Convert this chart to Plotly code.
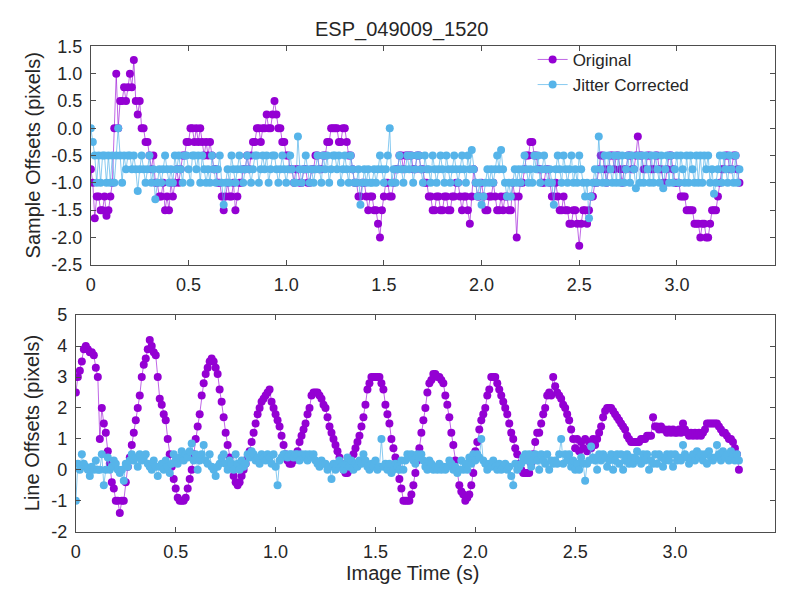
import plotly.graph_objects as go

# ---------------- data ----------------
time_s = [
    0.00, 0.01, 0.02, 0.03, 0.04, 0.05, 0.06, 0.07, 0.08, 0.09, 0.10, 0.11, 0.12, 0.13, 0.14, 0.15, 0.16, 0.17, 0.18, 0.19,
    0.20, 0.21, 0.22, 0.23, 0.24, 0.25, 0.26, 0.27, 0.28, 0.29, 0.30, 0.31, 0.32, 0.33, 0.34, 0.35, 0.36, 0.37, 0.38, 0.39,
    0.40, 0.41, 0.42, 0.43, 0.44, 0.45, 0.46, 0.47, 0.48, 0.49, 0.50, 0.51, 0.52, 0.53, 0.54, 0.55, 0.56, 0.57, 0.58, 0.59,
    0.60, 0.61, 0.62, 0.63, 0.64, 0.65, 0.66, 0.67, 0.68, 0.69, 0.70, 0.71, 0.72, 0.73, 0.74, 0.75, 0.76, 0.77, 0.78, 0.79,
    0.80, 0.81, 0.82, 0.83, 0.84, 0.85, 0.86, 0.87, 0.88, 0.89, 0.90, 0.91, 0.92, 0.93, 0.94, 0.95, 0.96, 0.97, 0.98, 0.99,
    1.00, 1.01, 1.02, 1.03, 1.04, 1.05, 1.06, 1.07, 1.08, 1.09, 1.10, 1.11, 1.12, 1.13, 1.14, 1.15, 1.16, 1.17, 1.18, 1.19,
    1.20, 1.21, 1.22, 1.23, 1.24, 1.25, 1.26, 1.27, 1.28, 1.29, 1.30, 1.31, 1.32, 1.33, 1.34, 1.35, 1.36, 1.37, 1.38, 1.39,
    1.40, 1.41, 1.42, 1.43, 1.44, 1.45, 1.46, 1.47, 1.48, 1.49, 1.50, 1.51, 1.52, 1.53, 1.54, 1.55, 1.56, 1.57, 1.58, 1.59,
    1.60, 1.61, 1.62, 1.63, 1.64, 1.65, 1.66, 1.67, 1.68, 1.69, 1.70, 1.71, 1.72, 1.73, 1.74, 1.75, 1.76, 1.77, 1.78, 1.79,
    1.80, 1.81, 1.82, 1.83, 1.84, 1.85, 1.86, 1.87, 1.88, 1.89, 1.90, 1.91, 1.92, 1.93, 1.94, 1.95, 1.96, 1.97, 1.98, 1.99,
    2.00, 2.01, 2.02, 2.03, 2.04, 2.05, 2.06, 2.07, 2.08, 2.09, 2.10, 2.11, 2.12, 2.13, 2.14, 2.15, 2.16, 2.17, 2.18, 2.19,
    2.20, 2.21, 2.22, 2.23, 2.24, 2.25, 2.26, 2.27, 2.28, 2.29, 2.30, 2.31, 2.32, 2.33, 2.34, 2.35, 2.36, 2.37, 2.38, 2.39,
    2.40, 2.41, 2.42, 2.43, 2.44, 2.45, 2.46, 2.47, 2.48, 2.49, 2.50, 2.51, 2.52, 2.53, 2.54, 2.55, 2.56, 2.57, 2.58, 2.59,
    2.60, 2.61, 2.62, 2.63, 2.64, 2.65, 2.66, 2.67, 2.68, 2.69, 2.70, 2.71, 2.72, 2.73, 2.74, 2.75, 2.76, 2.77, 2.78, 2.79,
    2.80, 2.81, 2.82, 2.83, 2.84, 2.85, 2.86, 2.87, 2.88, 2.89, 2.90, 2.91, 2.92, 2.93, 2.94, 2.95, 2.96, 2.97, 2.98, 2.99,
    3.00, 3.01, 3.02, 3.03, 3.04, 3.05, 3.06, 3.07, 3.08, 3.09, 3.10, 3.11, 3.12, 3.13, 3.14, 3.15, 3.16, 3.17, 3.18, 3.19,
    3.20, 3.21, 3.22, 3.23, 3.24, 3.25, 3.26, 3.27, 3.28, 3.29, 3.30, 3.31, 3.32,
]

sample_original = [
    -0.75, -1.0, -1.65, -1.25, -1.25, -1.5, -1.5, -1.25, -1.6, -1.5, -1.25, -1.0, 0.0, 1.0, 0.0, 0.5, 0.5, 0.75, 0.5, 0.75,
    1.0, 0.75, 1.25, 0.5, 0.25, 0.5, 0.0, 0.0, -0.25, -0.25, -0.5, -0.75, -0.5, -1.0, -1.0, -1.25, -1.25, -1.0, -1.5, -1.25,
    -1.5, -1.0, -1.25, -1.0, -0.75, -1.0, -0.75, -0.5, -0.5, -0.25, -0.25, 0.0, 0.0, -0.25, 0.0, -0.25, 0.0, -0.25, -0.5, -0.25,
    -0.5, -0.25, -0.5, -0.75, -0.75, -1.0, -1.0, -1.25, -1.5, -1.25, -1.0, -1.25, -1.25, -1.0, -1.5, -1.25, -1.0, -1.0, -0.75, -0.75,
    -0.5, -0.75, -0.5, -0.25, -0.25, 0.0, 0.0, -0.25, 0.0, 0.0, 0.25, 0.0, 0.0, 0.25, 0.5, 0.25, 0.0, 0.0, -0.25, -0.25,
    -0.5, -0.5, -0.75, -0.75, -1.0, -0.75, -0.75, -1.0, -1.0, -0.75, -0.75, -1.0, -1.0, -0.75, -0.75, -0.5, -0.5, -0.75, -0.75, -0.5,
    -0.5, -0.25, -0.25, 0.0, 0.0, 0.0, 0.0, -0.25, -0.25, 0.0, 0.0, -0.25, -0.5, -0.5, -0.75, -1.0, -1.0, -1.25, -1.25, -1.0,
    -1.0, -1.25, -1.5, -1.25, -1.25, -1.5, -1.5, -1.75, -2.0, -1.5, -1.25, -1.0, -1.0, -1.25, -1.25, -1.0, -0.75, -0.75, -0.5, -0.5,
    -0.75, -0.5, -0.5, -0.5, -0.5, -0.75, -0.75, -0.5, -0.5, -0.75, -0.75, -1.0, -1.0, -1.25, -1.25, -1.5, -1.5, -1.25, -1.25, -1.5,
    -1.5, -1.25, -1.25, -1.5, -1.5, -1.25, -1.25, -1.0, -1.0, -1.25, -1.5, -1.25, -1.25, -1.5, -1.75, -1.25, -0.75, -1.0, -1.25, -1.25,
    -1.0, -1.25, -1.5, -1.5, -1.25, -1.25, -1.0, -1.25, -1.5, -1.5, -1.25, -1.5, -1.25, -1.25, -1.5, -1.5, -1.0, -1.25, -2.0, -1.25,
    -1.0, -1.0, -0.75, -0.5, -0.5, -0.25, -0.25, -0.5, -0.5, -0.75, -0.75, -1.0, -1.0, -0.75, -0.75, -1.0, -1.25, -1.25, -1.0, -1.25,
    -1.5, -1.5, -1.25, -1.5, -1.5, -1.75, -1.75, -1.5, -1.5, -1.75, -2.15, -1.75, -1.5, -1.5, -1.75, -1.5, -1.25, -1.25, -1.0, -1.0,
    -0.75, -0.5, -0.5, -0.75, -1.0, -0.75, -0.5, -0.5, -0.75, -0.5, -0.5, -0.75, -1.0, -0.75, -0.75, -0.5, -0.5, -0.75, -0.75, -0.5,
    -0.15, -0.5, -0.5, -0.75, -0.75, -0.5, -0.5, -0.75, -0.75, -0.5, -0.5, -0.75, -0.75, -1.0, -1.0, -0.75, -0.5, -0.5, -0.75, -1.0,
    -1.0, -1.0, -1.25, -1.25, -1.25, -1.5, -1.5, -1.5, -1.5, -1.75, -1.75, -1.75, -2.0, -1.75, -1.75, -2.0, -2.0, -1.75, -1.5, -1.5,
    -1.5, -1.25, -1.0, -0.75, -0.75, -0.5, -0.5, -0.75, -0.75, -0.5, -0.5, -0.75, -1.0,
]

sample_corrected = [
    0.0, -0.25, -0.5, -1.0, -0.5, -1.0, -0.5, -0.5, -1.0, -0.5, -1.0, -0.5, -1.0, -0.5, 0.0, -0.5, -1.0, -0.5, -0.75, -0.5,
    -0.5, -0.75, -0.5, -0.75, -1.15, -0.75, -0.5, -0.75, -1.0, -0.75, -0.5, -1.0, -0.75, -1.3, -1.0, -0.75, -1.0, -0.75, -0.5, -0.75,
    -1.0, -0.75, -1.0, -0.5, -0.75, -0.5, -0.75, -1.0, -0.5, -0.5, -0.75, -1.0, -0.5, -0.5, -0.75, -0.5, -1.0, -0.5, -0.75, -1.0,
    -0.75, -1.0, -0.5, -0.75, -1.0, -0.75, -0.5, -1.0, -1.4, -1.0, -0.75, -1.0, -0.5, -0.75, -1.0, -0.75, -0.5, -0.75, -1.0, -0.75,
    -0.5, -0.75, -1.0, -0.75, -0.5, -0.5, -1.0, -0.75, -0.5, -0.75, -0.5, -1.0, -0.75, -0.5, -0.5, -0.75, -1.0, -0.75, -0.5, -0.75,
    -1.0, -0.75, -0.5, -0.75, -1.0, -1.0, -0.15, -0.75, -1.0, -0.75, -0.5, -0.75, -1.0, -0.75, -1.0, -0.75, -0.5, -0.75, -1.0, -0.5,
    -0.75, -0.5, -1.0, -0.75, -0.5, -0.5, -0.75, -0.5, -1.0, -0.75, -0.5, -0.75, -1.0, -0.5, -0.75, -1.0, -1.0, -0.75, -1.4, -1.0,
    -0.75, -1.0, -0.75, -1.0, -1.0, -0.75, -1.0, -0.75, -0.5, -0.75, -1.0, -0.75, -0.5, 0.0, -1.0, -0.75, -1.0, -0.75, -0.5, -0.75,
    -1.0, -0.75, -0.5, -0.75, -0.5, -1.0, -0.75, -0.5, -0.5, -0.75, -1.0, -0.5, -0.75, -0.75, -1.0, -0.5, -0.75, -1.0, -0.75, -0.5,
    -0.75, -1.0, -0.5, -0.75, -1.0, -0.75, -0.5, -0.75, -1.0, -0.75, -0.5, -0.75, -1.0, -0.5, -0.75, -0.4, -0.75, -1.0, -1.25, -1.0,
    -1.4, -1.25, -1.0, -0.75, -1.0, -0.75, -1.0, -0.75, -0.5, -0.75, -0.4, -0.75, -1.0, -1.25, -1.0, -1.25, -1.0, -0.75, -1.0, -0.75,
    -1.0, -0.75, -0.5, -0.75, -1.0, -0.75, -1.0, -0.5, -0.75, -0.5, -1.0, -0.75, -0.5, -0.75, -1.0, -0.75, -1.0, -1.4, -0.75, -0.5,
    -0.75, -1.0, -0.5, -0.75, -1.0, -0.75, -0.5, -1.0, -0.75, -1.0, -0.5, -0.75, -1.0, -1.25, -1.0, -1.65, -1.25, -1.0, -0.75, -1.0,
    -0.15, -0.75, -1.0, -0.5, -1.0, -0.5, -0.75, -1.0, -0.5, -1.0, -0.5, -1.0, -0.5, -1.0, -0.75, -0.5, -1.0, -0.5, -0.75, -1.1,
    -0.5, -1.0, -0.5, -1.0, -0.5, -0.75, -1.0, -0.5, -1.0, -0.5, -0.75, -1.0, -0.5, -1.1, -0.75, -0.5, -1.0, -0.5, -1.0, -0.75,
    -0.5, -1.0, -0.5, -0.75, -1.0, -0.5, -1.0, -0.5, -0.75, -1.0, -0.5, -1.0, -0.5, -1.0, -0.5, -0.75, -0.5, -1.0, -0.75, -1.2,
    -1.0, -0.75, -0.5, -1.0, -0.5, -0.75, -1.0, -0.5, -0.75, -1.0, -0.5, -1.0, -0.75,
]

line_original = [
    2.5, 3.0, 3.2, 3.5, 3.9, 4.0, 3.9, 3.8, 3.8, 3.7, 3.3, 3.0, 1.0, 2.0, 1.5, 1.2, 0.6, 0.2, -0.4, -0.6,
    -1.0, -1.0, -1.4, -1.0, -1.0, -0.4, 0.1, 0.4, 0.8, 1.2, 1.6, 2.0, 2.4, 3.0, 3.4, 3.6, 3.9, 4.2, 4.0, 3.8,
    3.7, 3.0, 2.3, 2.1, 1.8, 1.6, 1.0, 0.5, 0.1, -0.3, -0.6, -0.9, -1.0, -1.0, -1.0, -0.9, -0.6, -0.3, 0.0, 0.5,
    1.0, 1.4, 1.8, 2.4, 2.8, 3.1, 3.3, 3.5, 3.6, 3.5, 3.3, 3.1, 2.6, 2.2, 1.7, 1.2, 0.8, 0.4, 0.1, -0.2,
    -0.4, -0.5, -0.4, -0.2, 0.0, 0.2, 0.4, 0.6, 0.9, 1.2, 1.5, 1.8, 2.0, 2.2, 2.3, 2.4, 2.5, 2.6, 2.2, 2.0,
    1.8, 1.6, 1.4, 1.1, 0.8, 0.5, 0.3, 0.2, 0.2, 0.3, 0.4, 0.6, 0.9, 1.1, 1.3, 1.5, 1.8, 2.0, 2.4, 2.5,
    2.5, 2.5, 2.4, 2.3, 2.1, 2.0, 1.7, 1.4, 1.2, 1.0, 0.8, 0.6, 0.4, 0.2, 0.0, -0.1, -0.1, 0.0, 0.3, 0.5,
    0.7, 0.9, 1.1, 1.4, 1.7, 2.1, 2.6, 2.8, 3.0, 3.0, 3.0, 3.0, 3.0, 2.8, 2.6, 2.1, 1.8, 1.5, 1.0, 0.7,
    0.4, 0.1, -0.3, -0.6, -1.0, -1.0, -1.0, -1.0, -0.8, -0.5, -0.1, 0.3, 0.7, 1.2, 1.6, 2.0, 2.5, 2.8, 2.9, 3.1,
    3.1, 3.0, 3.0, 2.9, 2.8, 2.4, 2.1, 1.7, 1.2, 0.8, 0.3, 0.0, -0.5, -0.7, -0.8, -1.0, -0.9, -0.8, -0.5, -0.1,
    0.6, 0.9, 1.3, 1.6, 1.8, 2.0, 2.4, 2.6, 3.0, 3.0, 3.0, 2.8, 2.6, 2.4, 2.2, 2.0, 1.8, 1.5, 1.2, 1.0,
    0.7, 0.5, 0.2, 0.0, -0.1, -0.1, -0.1, -0.1, 0.2, 0.5, 0.9, 1.2, 1.2, 1.5, 1.8, 2.0, 2.4, 2.5, 2.4, 3.0,
    2.7, 2.5, 2.4, 2.3, 2.1, 2.0, 1.8, 1.6, 1.3, 1.0, 0.7, 1.0, 0.6, 0.9, 0.7, 1.0, 0.6, 0.9, 0.7, 1.0,
    0.8, 1.0, 1.2, 1.4, 1.7, 1.9, 2.0, 2.0, 2.0, 1.9, 1.8, 1.7, 1.6, 1.5, 1.4, 1.3, 1.1, 1.0, 0.9, 0.9,
    0.9, 0.9, 0.9, 1.0, 1.0, 1.0, 1.1, 1.1, 1.1, 1.7, 1.4, 1.4, 1.3, 1.4, 1.3, 1.3, 1.2, 1.3, 1.2, 1.3,
    1.2, 1.2, 1.3, 1.2, 1.5, 1.3, 1.2, 1.1, 1.2, 1.1, 1.2, 1.1, 1.2, 1.1, 1.2, 1.3, 1.5, 1.5, 1.5, 1.5,
    1.5, 1.5, 1.4, 1.3, 1.2, 1.2, 1.1, 1.0, 1.0, 0.9, 0.7, 0.5, 0.0,
]

line_corrected = [
    -1.0, 0.2, 0.0, 0.5, 0.2, 0.1, 0.0, -0.2, 0.1, 0.0, 0.3, 0.0, 0.0, 0.5, -0.5, 0.0, 0.4, 0.0, 0.1, 0.3,
    0.2, 0.0, -0.1, 0.0, -0.35, 0.2, 0.1, 0.3, 0.5, 0.3, 0.4, 0.1, 0.5, 0.3, 0.4, 0.5, 0.2, 0.1, 0.0, 0.3,
    0.1, -0.2, 0.1, 0.2, 0.0, 0.3, 0.1, -0.1, 0.2, 0.5, 0.3, 0.2, 0.4, 0.6, 0.3, 0.5, 0.4, 0.6, 0.85, 0.3,
    0.5, 0.0, 0.3, 0.5, 0.8, 0.3, 0.2, 0.5, 0.1, 0.0, -0.2, 0.1, 0.2, 0.4, 0.5, 0.2, 0.0, 0.3, 0.2, 0.0,
    0.5, 0.2, 0.0, 0.3, 0.1, 0.2, 0.5, 0.4, 0.6, 0.5, 0.3, 0.4, 0.2, 0.5, 0.4, 0.3, 0.5, 0.4, 0.2, 0.5,
    0.1, -0.5, 0.3, 0.4, 0.5, 0.5, 0.4, 0.5, 0.5, 0.4, 0.5, 0.5, 0.3, 0.5, 0.4, 0.5, 0.3, 0.5, 0.4, 0.5,
    0.3, 0.2, 0.1, 0.3, 0.2, 0.2, 0.0, 0.1, -0.3, 0.2, 0.0, 0.2, 0.3, 0.1, 0.0, 0.2, 0.4, 0.1, 0.3, 0.0,
    0.2, 0.1, 0.3, 0.2, 0.5, 0.3, 0.1, 0.0, 0.2, 0.1, 0.3, 0.0, 0.1, 1.0, 0.1, 0.2, 0.0, 0.2, -0.1, 0.0,
    0.2, 0.1, 0.0, 0.3, 0.0, 0.3, 0.5, 0.4, 0.5, 0.3, 0.2, 0.5, 0.4, 0.5, 0.3, 0.1, 0.0, 0.3, 0.2, 0.0,
    0.1, 0.0, 0.2, 0.0, 0.1, 0.0, 0.1, 0.3, 0.2, 0.0, 0.1, -0.1, 0.0, 0.3, 0.0, 0.2, 0.0, 0.4, 0.2, 0.5,
    0.3, 0.5, 0.4, 1.0, 0.3, 0.2, 0.0, 0.2, 0.1, 0.3, 0.1, 0.0, 0.2, 0.0, 0.1, 0.2, 0.0, 0.1, -0.2, -0.5,
    0.2, 0.0, 0.1, 0.2, 0.4, 0.5, 0.3, 0.5, 0.1, 0.3, 0.5, 0.3, 0.0, 0.5, 0.3, 0.2, 0.5, 0.0, 0.3, 0.2,
    0.3, 0.2, 0.5, 1.0, 0.2, 0.5, 0.3, 0.5, 0.1, 0.3, 0.0, 0.2, 0.0, 0.4, 0.2, -0.35, 0.2, 0.3, 0.75, 0.4,
    0.3, 0.0, 0.5, 0.3, 0.5, 0.4, 0.1, 0.3, 0.5, 0.0, 0.3, 0.5, 0.2, 0.5, 0.0, 0.3, 0.5, 0.2, 0.4, 0.2,
    0.4, 0.6, 0.3, 0.2, 0.5, 0.3, 0.5, 0.0, 0.3, 0.2, 0.5, 0.2, 0.5, 0.4, 0.1, 0.3, 0.5, 0.3, 0.5, 0.1,
    0.5, 0.3, 0.4, 0.3, 0.8, 0.5, 0.4, 0.2, 0.3, 0.5, 0.3, 0.6, 0.4, 0.5, 0.3, 0.5, 0.2, 0.6, 0.4, 0.3,
    0.4, 0.8, 0.5, 0.3, 0.6, 0.4, 0.5, 0.3, 0.6, 0.5, 0.3, 0.5, 0.3,
]

x_tickvals = [0, 0.5, 1.0, 1.5, 2.0, 2.5, 3.0, 3.5]
x_ticktext = ["0", "0.5", "1.0", "1.5", "2.0", "2.5", "3.0", "3.5"]
y1_tickvals = [1.5, 1.0, 0.5, 0.0, -0.5, -1.0, -1.5, -2.0, -2.5]
y1_ticktext = ["1.5", "1.0", "0.5", "0.0", "-0.5", "-1.0", "-1.5", "-2.0", "-2.5"]
y2_tickvals = [5, 4, 3, 2, 1, 0, -1, -2]
y2_ticktext = ["5", "4", "3", "2", "1", "0", "-1", "-2"]

# ---------------- style ----------------
W, H = 787, 599
PURPLE = "rgb(148,0,211)"
PURPLE_LINE = "rgba(148,0,211,0.6)"
CYAN = "rgb(86,180,233)"
CYAN_LINE = "rgba(86,180,233,0.7)"
FONT = "Arial, Liberation Sans, Helvetica, sans-serif"
TXT = "#262626"
AX = "#4d4d4d"


def px_x(px):
    return px / W


def px_y(py):
    return 1 - py / H


fig = go.Figure()


def add(x, y, name, color, lcolor, xa, ya, show):
    fig.add_trace(go.Scatter(
        x=x, y=y, name=name, mode="lines+markers",
        line=dict(color=lcolor, width=1),
        marker=dict(color=color, size=8, line=dict(width=0)),
        xaxis=xa, yaxis=ya, showlegend=show,
    ))


add(time_s, sample_original, "Original", PURPLE, PURPLE_LINE, "x", "y", True)
add(time_s, sample_corrected, "Jitter Corrected", CYAN, CYAN_LINE, "x", "y", True)
add(time_s, line_original, "Original", PURPLE, PURPLE_LINE, "x2", "y2", False)
add(time_s, line_corrected, "Jitter Corrected", CYAN, CYAN_LINE, "x2", "y2", False)

axis_common = dict(
    showgrid=False, zeroline=False, showline=True, linecolor=AX, linewidth=1,
    mirror="ticks", ticks="inside", ticklen=5, tickcolor=AX,
    tickfont=dict(family=FONT, size=18, color=TXT),
    tickmode="array", ticklabelstandoff=4,
)

fig.update_layout(
    width=W, height=H,
    margin=dict(l=0, r=0, t=0, b=0),
    paper_bgcolor="white", plot_bgcolor="white",
    font=dict(family=FONT, color=TXT),
    xaxis=dict(axis_common, domain=[px_x(86.4), px_x(774.5)], range=[0, 3.5],
               tickvals=x_tickvals, ticktext=x_ticktext, anchor="y"),
    yaxis=dict(axis_common, domain=[px_y(263.6), px_y(37.6)], range=[-2.5, 1.5],
               tickvals=y1_tickvals, ticktext=y1_ticktext, anchor="x"),
    xaxis2=dict(axis_common, domain=[px_x(71.3), px_x(774.8)], range=[0, 3.5],
                tickvals=x_tickvals, ticktext=x_ticktext, anchor="y2"),
    yaxis2=dict(axis_common, domain=[px_y(539.7), px_y(315.7)], range=[-2, 5],
                tickvals=y2_tickvals, ticktext=y2_ticktext, anchor="x2"),
    legend=dict(x=px_x(531), y=px_y(33), xanchor="left", yanchor="top",
                bgcolor="rgba(0,0,0,0)", borderwidth=0, tracegroupgap=0,
                font=dict(family=FONT, size=17, color=TXT)),
    showlegend=True,
)

fig.add_annotation(text="ESP_049009_1520", x=px_x(400), y=px_y(20),
                   xref="paper", yref="paper", showarrow=False,
                   xanchor="center", yanchor="middle",
                   font=dict(family=FONT, size=20, color=TXT))
fig.add_annotation(text="Sample Offsets (pixels)", x=px_x(28), y=px_y(150.6),
                   xref="paper", yref="paper", showarrow=False, textangle=-90,
                   xanchor="center", yanchor="middle",
                   font=dict(family=FONT, size=20, color=TXT))
fig.add_annotation(text="Line Offsets (pixels)", x=px_x(28), y=px_y(427.7),
                   xref="paper", yref="paper", showarrow=False, textangle=-90,
                   xanchor="center", yanchor="middle",
                   font=dict(family=FONT, size=20, color=TXT))
fig.add_annotation(text="Image Time (s)", x=px_x(410), y=px_y(582),
                   xref="paper", yref="paper", showarrow=False,
                   xanchor="center", yanchor="middle",
                   font=dict(family=FONT, size=20, color=TXT))

fig.write_html("out.html")
